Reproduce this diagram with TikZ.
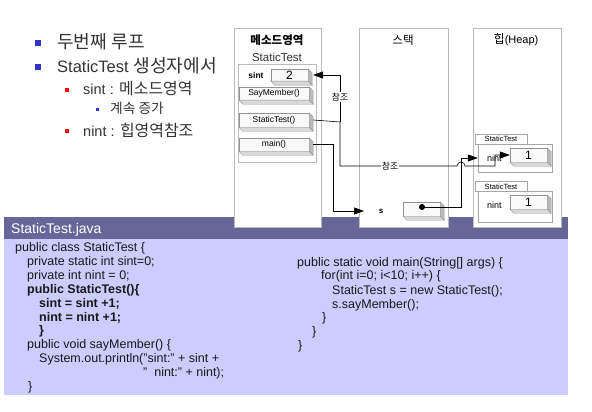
\documentclass[tikz,border=0pt]{standalone}
\usepackage{fontspec}
\setmainfont{Liberation Sans}
\newfontfamily\kr[Scale=1.1]{Noto Sans CJK KR}
\usetikzlibrary{arrows.meta}

\definecolor{barcol}{HTML}{666699}
\definecolor{codebg}{HTML}{CCCCFF}
\definecolor{bulblue}{HTML}{3333CC}
\definecolor{txtgray}{HTML}{333333}
\definecolor{linegray}{HTML}{BBBBBB}

% shaded side and bottom of a raised box
\newcommand\bevel[1]{%
  \filldraw[draw=gray!85, fill=gray!55] (#1.north east) -- ([shift={(4,4)}]#1.north east) -- ([shift={(4,4)}]#1.south east) -- (#1.south east) -- cycle;
  \filldraw[draw=gray!85, fill=gray!30] (#1.south west) -- (#1.south east) -- ([shift={(4,4)}]#1.south east) -- ([shift={(4,4)}]#1.south west) -- cycle;}

\begin{document}
\begin{tikzpicture}[x=1pt, y=-1pt,
    colbox/.style={draw=linegray, fill=white},
    bevelbox/.style={draw=gray!85, fill=gray!5, inner sep=0pt, font=\fontsize{8.5}{10}\selectfont},
    tabbox/.style={draw=gray!70, fill=white, inner sep=0pt, minimum width=52, minimum height=10, font=\fontsize{7.5}{8}\selectfont},
    refline/.style={line width=0.6pt},
    reftip/.style={line width=0.6pt, -{Triangle[length=10pt,width=7pt]}},
    reflabel/.style={fill=white, inner sep=1pt, font=\kr\fontsize{8}{9}\selectfont},
    codeline/.style={anchor=base west, inner sep=0pt, text=black!90, font=\fontsize{12.5}{14}\selectfont},
    bullettext/.style={anchor=west, inner sep=0pt, text=txtgray}]
  \useasboundingbox (0,0) rectangle (592,412);

  % bullets
  \node[fill=bulblue, inner sep=0, minimum size=6] (b1) at (38,43) {};
  \node[fill=bulblue, inner sep=0, minimum size=6] (b2) at (38,67) {};
  \node[fill=red, inner sep=0, minimum size=4.5] (b3) at (67,90) {};
  \node[fill=bulblue, inner sep=0, minimum size=3] (b4) at (97,109) {};
  \node[fill=red, inner sep=0, minimum size=4.5] (b5) at (67,131) {};
  \node[bullettext, font=\kr\fontsize{16.5}{18}\selectfont] (t1) at (57,42) {두번째 루프};
  \node[bullettext, font=\fontsize{16.5}{18}\selectfont] (t2) at (57,66) {StaticTest {\kr 생성자에서}};
  \node[bullettext, font=\fontsize{14.5}{16}\selectfont] (t3) at (83,89) {sint : {\kr 메소드영역}};
  \node[bullettext, font=\kr\fontsize{12.5}{14}\selectfont] (t4) at (110,108) {계속 증가};
  \node[bullettext, font=\fontsize{14.5}{16}\selectfont] (t5) at (83,130) {nint : {\kr 힙영역참조}};

  % code panel
  \fill[codebg] (4,239) rectangle (568,395);
  \fill[barcol] (4,217) rectangle (568,239);
  \node[anchor=base west, inner sep=0, text=white, font=\fontsize{14}{16}\selectfont] (title) at (11,233) {StaticTest.java};

  % memory columns
  \draw[colbox] (234,28) rectangle (321,227);
  \draw[colbox] (359,28) rectangle (448,227);
  \draw[colbox] (473,28) rectangle (561,227);
  \node[font=\kr\bfseries\fontsize{10.5}{12}\selectfont] (methhead) at (277,40) {메소드영역};
  \node[text=txtgray, font=\fontsize{11.5}{12}\selectfont] (classname) at (277,57) {StaticTest};
  \node[font=\kr\fontsize{10.5}{12}\selectfont] (stackhead) at (403,40) {스택};
  \node[font=\fontsize{11}{12}\selectfont] (heaphead) at (516,40) {{\kr 힙}(Heap)};

  % method area
  \draw[linegray] (238,64) rectangle (316,162);
  \node[font=\bfseries\fontsize{8.5}{10}\selectfont] (sintlbl) at (256,75) {sint};
  \node[bevelbox, minimum width=37, minimum height=12, font=\fontsize{12}{12}\selectfont] (sintval) at (289.5,75) {2};
  \node[bevelbox, minimum width=70, minimum height=13] (saymem) at (274,93.5) {SayMember()};
  \node[bevelbox, minimum width=70, minimum height=14] (ctor) at (274,120) {StaticTest()};
  \node[bevelbox, minimum width=70, minimum height=13] (mainm) at (274,144.5) {main()};
  \bevel{sintval}
  \bevel{saymem}
  \bevel{ctor}
  \bevel{mainm}

  % stack
  \node[font=\bfseries\fontsize{8}{9}\selectfont] (slbl) at (381,211) {s};
  \node[bevelbox, minimum width=37, minimum height=14] (sbox) at (421.5,209) {};
  \bevel{sbox}
  \node[circle, fill=black, inner sep=0, minimum size=6] (sdot) at (422,207) {};
  \coordinate (stip) at (364,211);

  % heap objects
  \draw[gray!70] (478,144) rectangle (552,172);
  \node[inner sep=0, minimum width=74, minimum height=28] (hobj1) at (515,158) {};
  \node[tabbox] (tab1) at (501,139) {StaticTest};
  \node[anchor=west, inner sep=0, font=\fontsize{9}{10}\selectfont] (nint1) at (487,158) {nint};
  \node[bevelbox, minimum width=37, minimum height=14, font=\fontsize{12}{12}\selectfont] (hval1) at (528.5,155) {1};
  \bevel{hval1}
  \draw[gray!70] (478,191) rectangle (552,222);
  \node[tabbox] (tab2) at (501,186.5) {StaticTest};
  \node[anchor=west, inner sep=0, font=\fontsize{9}{10}\selectfont] (nint2) at (487,205) {nint};
  \node[bevelbox, minimum width=37, minimum height=14, font=\fontsize{12}{12}\selectfont] (hval2) at (528.5,202) {1};
  \bevel{hval2}

  % references
  \coordinate (jn) at (340,122);
  \draw[refline] ([xshift=4pt]ctor.east) -- (jn);
  \draw[reftip] (jn) |- ([xshift=5pt]sintval.east);
  \draw[reftip] (jn) -- (340,166) -- (457,166) arc[start angle=180, end angle=360, radius=4] -- (495,166) |- (hval1.west);
  \draw[reftip] ([xshift=4pt]mainm.east) -| (333,211) -- (stip);
  \draw[reftip] (sdot.center) -| (461,158) -- (hobj1.west);
  \node[reflabel] (ref1) at (340,97) {참조};
  \node[reflabel] (ref2) at (390,166) {참조};

  % code, left column
  \node[codeline] (c1) at (15,251.5) {public class StaticTest \{};
  \node[codeline] (c2) at (27,265.4) {private static int sint=0;};
  \node[codeline] (c3) at (27,279.3) {private int nint = 0;};
  \node[codeline, font=\bfseries\fontsize{12.5}{14}\selectfont] (c4) at (27,293.2) {public StaticTest()\{};
  \node[codeline, font=\bfseries\fontsize{12.5}{14}\selectfont] (c5) at (39,307.1) {sint = sint +1;};
  \node[codeline, font=\bfseries\fontsize{12.5}{14}\selectfont] (c6) at (39,321) {nint = nint +1;};
  \node[codeline, font=\bfseries\fontsize{12.5}{14}\selectfont] (c7) at (39,334.9) {\}};
  \node[codeline] (c8) at (27,348.8) {public void sayMember() \{};
  \node[codeline] (c9) at (39,362.7) {System.out.println("sint:" + sint +};
  \node[codeline] (c10) at (143,376.6) {" \ nint:" + nint);};
  \node[codeline] (c11) at (28,390) {\}};
  % code, right column
  \node[codeline] (r1) at (297,266) {public static void main(String[] args) \{};
  \node[codeline] (r2) at (321,279.5) {for(int i=0; i<10; i++) \{};
  \node[codeline] (r3) at (332,294) {StaticTest s = new StaticTest();};
  \node[codeline] (r4) at (332,308) {s.sayMember();};
  \node[codeline] (r5) at (322,321.5) {\}};
  \node[codeline] (r6) at (312,335) {\}};
  \node[codeline] (r7) at (298,349.5) {\}};
\end{tikzpicture}
\end{document}
